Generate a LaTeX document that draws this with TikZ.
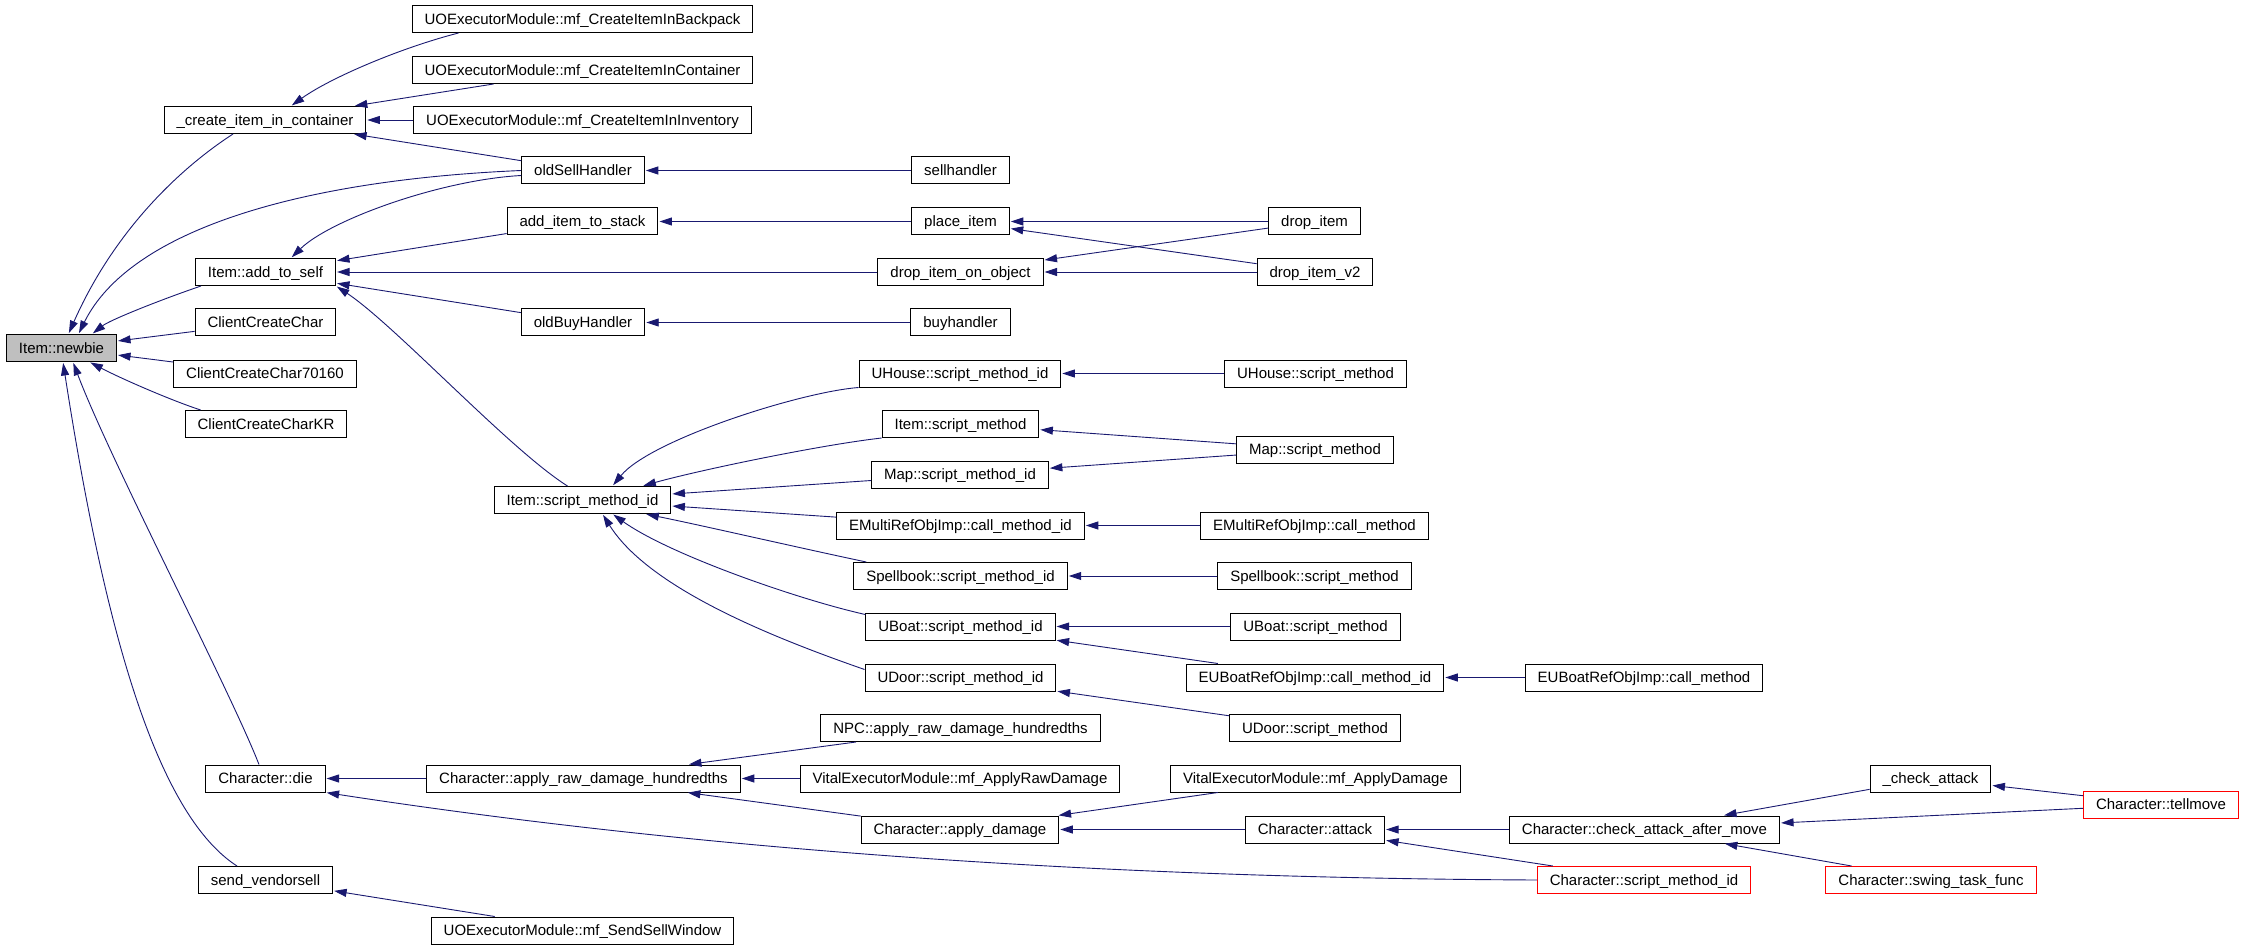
\documentclass[tikz,border=0pt]{standalone}
\usepackage{fontspec}
\setmainfont{Liberation Sans}
\usetikzlibrary{arrows.meta}
\definecolor{callcol}{HTML}{191970}
\definecolor{rootfill}{HTML}{BFBFBF}
\tikzset{%
    >={Triangle[length=12.5pt,width=8pt]}, % doxygen style arrows
    fn box/.style={draw=black, line width=1pt, inner xsep=12.5pt,
    inner ysep=0pt, minimum height=27pt, text height=10.5pt,
    text depth=0pt, font=\fontsize{15}{18}\selectfont},%
    root box/.style={fn box, fill=rootfill},%
    cut box/.style={fn box, draw=red},%
    call/.style={->, draw=callcol, line width=0.9pt, shorten >=1pt}%
    }

\begin{document}
\begin{tikzpicture}[x=1pt,y=-1pt]
    \useasboundingbox (0,0) rectangle (2245,949);

    % first column
    \node[root box] (newbie) at (61.5,348) {Item::newbie};

    % second column
    \node[fn box] (cic) at (265,120) {\_create\_item\_in\_container};
    \node[fn box] (addself) at (265.5,272) {Item::add\_to\_self};
    \node[fn box] (ccc) at (265.5,322.5) {ClientCreateChar};
    \node[fn box] (ccc70) at (265,373.5) {ClientCreateChar70160};
    \node[fn box] (ccckr) at (266,424) {ClientCreateCharKR};
    \node[fn box] (die) at (265.5,778.5) {Character::die};
    \node[fn box] (vendorsell) at (265.5,880) {send\_vendorsell};

    % third column
    \node[fn box] (backpack) at (582.5,19) {UOExecutorModule::mf\_CreateItemInBackpack};
    \node[fn box] (container) at (582.5,70) {UOExecutorModule::mf\_CreateItemInContainer};
    \node[fn box] (inventory) at (582.5,120) {UOExecutorModule::mf\_CreateItemInInventory};
    \node[fn box] (oldsell) at (583,170.5) {oldSellHandler};
    \node[fn box] (additem) at (582.5,221.5) {add\_item\_to\_stack};
    \node[fn box] (oldbuy) at (583,322.5) {oldBuyHandler};
    \node[fn box] (itemsmid) at (582.5,500) {Item::script\_method\_id};
    \node[fn box] (rawdmg) at (583.5,778.5) {Character::apply\_raw\_damage\_hundredths};
    \node[fn box] (sendsell) at (582.5,930.5) {UOExecutorModule::mf\_SendSellWindow};

    % fourth column
    \node[fn box] (sellhandler) at (960.5,170.5) {sellhandler};
    \node[fn box] (placeitem) at (960.5,221.5) {place\_item};
    \node[fn box] (dropobj) at (960.5,272) {drop\_item\_on\_object};
    \node[fn box] (buyhandler) at (960.5,322.5) {buyhandler};
    \node[fn box] (uhouseid) at (960,373.5) {UHouse::script\_method\_id};
    \node[fn box] (itemsm) at (960.5,424) {Item::script\_method};
    \node[fn box] (mapid) at (960,474.5) {Map::script\_method\_id};
    \node[fn box] (emultiid) at (960.5,525.5) {EMultiRefObjImp::call\_method\_id};
    \node[fn box] (spellid) at (960.5,576) {Spellbook::script\_method\_id};
    \node[fn box] (uboatid) at (960.5,626.5) {UBoat::script\_method\_id};
    \node[fn box] (udoorid) at (960.5,677.5) {UDoor::script\_method\_id};
    \node[fn box] (npcraw) at (960.5,728) {NPC::apply\_raw\_damage\_hundredths};
    \node[fn box] (vitalraw) at (960,778.5) {VitalExecutorModule::mf\_ApplyRawDamage};
    \node[fn box] (applydmg) at (960,829.5) {Character::apply\_damage};

    % fifth column
    \node[fn box] (dropitem) at (1314.5,221.5) {drop\_item};
    \node[fn box] (dropv2) at (1315,272) {drop\_item\_v2};
    \node[fn box] (uhousesm) at (1315.5,373.5) {UHouse::script\_method};
    \node[fn box] (mapsm) at (1315,449.5) {Map::script\_method};
    \node[fn box] (emultism) at (1314.5,525.5) {EMultiRefObjImp::call\_method};
    \node[fn box] (spellsm) at (1314.5,576) {Spellbook::script\_method};
    \node[fn box] (uboatsm) at (1315.5,626.5) {UBoat::script\_method};
    \node[fn box] (euboatid) at (1315,677.5) {EUBoatRefObjImp::call\_method\_id};
    \node[fn box] (udoorsm) at (1315,728) {UDoor::script\_method};
    \node[fn box] (vitaldmg) at (1315.5,778.5) {VitalExecutorModule::mf\_ApplyDamage};
    \node[fn box] (attack) at (1315,829.5) {Character::attack};

    % right part
    \node[fn box] (euboatsm) at (1644,677.5) {EUBoatRefObjImp::call\_method};
    \node[fn box] (checkafter) at (1644.5,829.5) {Character::check\_attack\_after\_move};
    \node[cut box] (charsmid) at (1644,880) {Character::script\_method\_id};
    \node[fn box] (checkattack) at (1930.5,778.5) {\_check\_attack};
    \node[cut box] (swing) at (1931,880) {Character::swing\_task\_func};
    \node[cut box] (tellmove) at (2161,804.5) {Character::tellmove};

    % calls into Item::newbie
    \draw[call] ([xshift=-32pt]cic.south) .. controls (170,175) and (110,240) .. ([xshift=7pt]newbie.north);
    \draw[call] (oldsell.west) .. controls (300,180) and (130,230) .. ([xshift=17pt]newbie.north);
    \draw[call] ([xshift=-64.5pt]addself.south) .. controls (160,300) and (110,320) .. ([xshift=-25pt]newbie.north east);
    \draw[call] (ccc) -- (newbie);
    \draw[call] (ccc70) -- (newbie);
    \draw[call] ([xshift=16pt]ccckr.north west) .. controls (170,400) and (120,378) .. ([xshift=28pt]newbie.south);
    \draw[call] ([xshift=-6.5pt]die.north) .. controls (230,690) and (110,460) .. ([xshift=11.5pt]newbie.south);
    \draw[call] ([xshift=-28.5pt]vendorsell.north) .. controls (150,810) and (100,600) .. ([xshift=1.5pt]newbie.south);

    % _create_item_in_container
    \draw[call] ([xshift=-124pt]backpack.south) .. controls (400,48) and (330,78) .. ([xshift=26pt]cic.north);
    \draw[call] (container) -- (cic);
    \draw[call] (inventory) -- (cic);
    \draw[call] (oldsell) -- (cic);

    % Item::add_to_self
    \draw[call] ([yshift=-5pt]oldsell.west) .. controls (440,180) and (330,220) .. ([xshift=25.5pt]addself.north);
    \draw[call] (additem) -- (addself);
    \draw[call] (dropobj) -- (addself);
    \draw[call] (oldbuy) -- (addself);
    \draw[call] ([xshift=-15pt]itemsmid.north) .. controls (510,450) and (395,325) .. (addself.south east);
    \draw[call] (sellhandler) -- (oldsell);
    \draw[call] (buyhandler) -- (oldbuy);
    \draw[call] (placeitem) -- (additem);
    \draw[call] (dropitem) -- (placeitem);
    \draw[call] (dropv2) -- (placeitem);
    \draw[call] (dropitem) -- (dropobj);
    \draw[call] (dropv2) -- (dropobj);

    % Item::script_method_id
    \draw[call] (uhouseid.south west) .. controls (800,392) and (650,440) .. ([xshift=30pt]itemsmid.north);
    \draw[call] (itemsm.south west) .. controls (820,445) and (700,470) .. ([xshift=-29pt]itemsmid.north east);
    \draw[call] (mapid) -- (itemsmid);
    \draw[call] (emultiid) -- (itemsmid);
    \draw[call] ([xshift=13pt]spellid.north west) .. controls (800,548) and (700,525) .. ([xshift=-26pt]itemsmid.south east);
    \draw[call] ([yshift=-2pt]uboatid.north west) .. controls (800,600) and (670,555) .. ([xshift=30pt]itemsmid.south);
    \draw[call] ([yshift=-6pt]udoorid.north west) .. controls (780,640) and (650,590) .. ([xshift=20pt]itemsmid.south);
    \draw[call] (uhousesm) -- (uhouseid);
    \draw[call] (mapsm) -- (itemsm);
    \draw[call] (mapsm) -- (mapid);
    \draw[call] (emultism) -- (emultiid);
    \draw[call] (spellsm) -- (spellid);
    \draw[call] (uboatsm) -- (uboatid);
    \draw[call] (euboatid) -- (uboatid);
    \draw[call] (euboatsm) -- (euboatid);
    \draw[call] (udoorsm) -- (udoorid);

    % damage and attack
    \draw[call] (rawdmg) -- (die);
    \draw[call] (charsmid.west) .. controls (1100,878) and (700,850) .. (die.south east);
    \draw[call] (npcraw) -- (rawdmg);
    \draw[call] (vitalraw) -- (rawdmg);
    \draw[call] (applydmg) -- (rawdmg);
    \draw[call] (vitaldmg) -- (applydmg);
    \draw[call] (attack) -- (applydmg);
    \draw[call] (checkafter) -- (attack);
    \draw[call] (charsmid) -- (attack);
    \draw[call] (checkattack) -- (checkafter);
    \draw[call] (tellmove) -- (checkafter);
    \draw[call] (swing) -- (checkafter);
    \draw[call] (tellmove) -- (checkattack);
    \draw[call] (sendsell) -- (vendorsell);
\end{tikzpicture}
\end{document}
